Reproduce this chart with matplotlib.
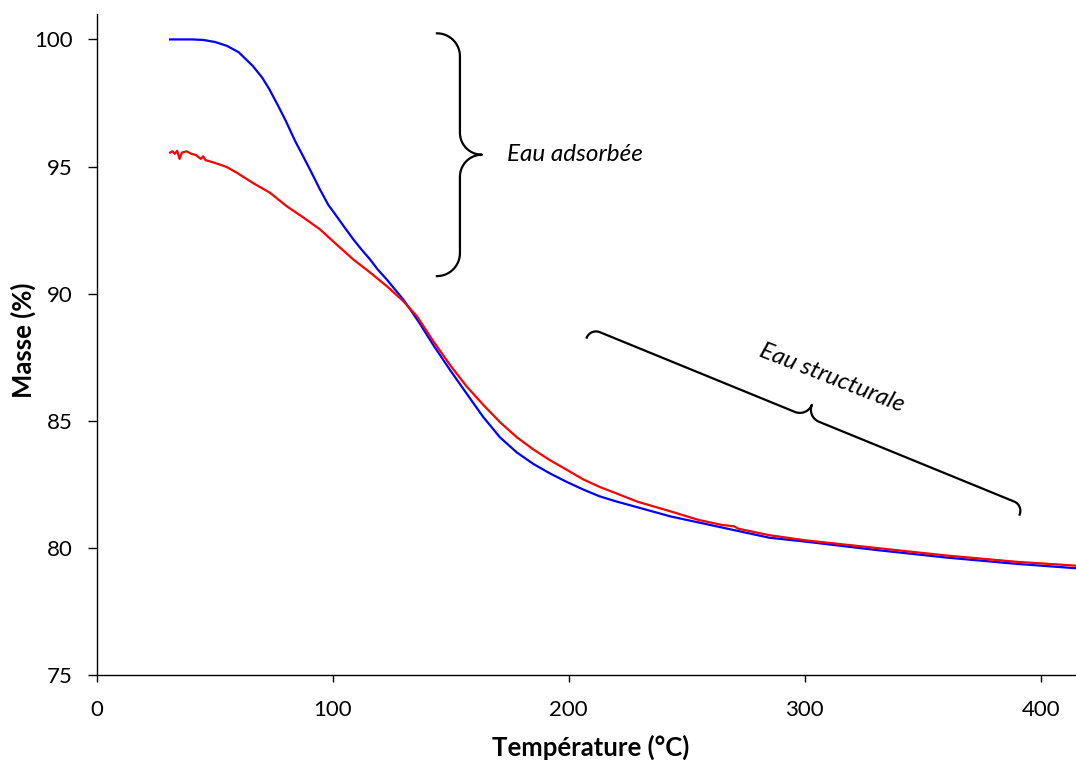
import numpy as np
import matplotlib
matplotlib.use("Agg")
import matplotlib.pyplot as plt

plt.rcParams['font.family'] = ['Lato', 'DejaVu Sans']

# Thermogravimetric curves
temp_blue = [31, 40, 45, 50, 55, 60, 66, 70, 73, 77, 80, 84, 87.4, 91, 94.5,
             98, 101.6, 105, 108.7, 112, 115.8, 119, 122.9, 126, 129.9, 133,
             137, 142.4, 150, 156.6, 163.7, 170.8, 178, 185, 192, 199, 206,
             213, 220, 229, 243, 260, 285, 300, 330, 360, 390, 415]
mass_blue = [100.0, 100.0, 99.98, 99.9, 99.75, 99.5, 98.96, 98.5, 98.05, 97.35,
             96.8, 96.0, 95.4, 94.75, 94.1, 93.5, 93.04, 92.6, 92.13, 91.75,
             91.34, 90.95, 90.55, 90.2, 89.76, 89.35, 88.8, 88.0, 86.95, 86.08,
             85.15, 84.35, 83.75, 83.3, 82.93, 82.6, 82.3, 82.03, 81.83, 81.6,
             81.24, 80.9, 80.4, 80.25, 79.92, 79.62, 79.37, 79.2]

temp_red = [31, 32, 33, 34, 35, 36, 38, 40, 42, 44, 45, 46, 48, 52, 55, 59.2,
            66, 73.3, 80.4, 87.4, 94.5, 101.6, 108.7, 115.8, 122.9, 129.9,
            135.7, 142.4, 150, 156.6, 164, 171, 178, 185, 192, 199, 206, 213,
            220, 229, 243, 255, 265, 270, 272, 285, 300, 330, 360, 390, 415]
mass_red = [95.55, 95.6, 95.5, 95.62, 95.3, 95.55, 95.6, 95.5, 95.45, 95.3,
            95.4, 95.25, 95.2, 95.08, 94.98, 94.76, 94.36, 93.97, 93.44, 93.0,
            92.53, 91.93, 91.34, 90.83, 90.29, 89.7, 89.1, 88.15, 87.15, 86.36,
            85.6, 84.93, 84.35, 83.87, 83.45, 83.08, 82.7, 82.4, 82.15, 81.82,
            81.44, 81.1, 80.9, 80.85, 80.75, 80.5, 80.3, 80.0, 79.7, 79.45,
            79.3]

x_ticks = [0, 100, 200, 300, 400]
y_ticks = [75, 80, 85, 90, 95, 100]

fig = plt.figure(figsize=(10.76, 7.6), dpi=100)
ax = fig.add_axes([97 / 1076, 85 / 760, 979 / 1076, 661 / 760])

ax.plot(temp_blue, mass_blue, color='#0000ff', lw=1.6)
ax.plot(temp_red, mass_red, color='#ff0000', lw=1.6)

ax.set_xlim(0, 415)
ax.set_ylim(75, 101)
ax.set_xticks(x_ticks)
ax.set_yticks(y_ticks)
ax.spines['top'].set_visible(False)
ax.spines['right'].set_visible(False)
for s in ('left', 'bottom'):
    ax.spines[s].set_linewidth(1.0)
ax.tick_params(axis='x', length=5, width=1, labelsize=16, pad=13)
ax.tick_params(axis='y', length=6.5, width=1, labelsize=16, pad=11)
ax.set_xlabel('Température (°C)', fontsize=18.5, fontweight='bold')
ax.set_ylabel('Masse (%)', fontsize=18.5, fontweight='bold')
ax.xaxis.label.set_va('center')
ax.xaxis.set_label_coords(0.5046, -0.110)
ax.yaxis.label.set_va('center')
ax.yaxis.set_label_coords(-0.0756, 0.507)


def brace(ax, p0, p1, tip, cusp):
    # curly brace whose tips sit at p0 and p1 (data), drawn in pixel space
    a = ax.transData.transform(p0)
    b = ax.transData.transform(p1)
    L = np.hypot(*(b - a))
    u = (b - a) / L
    n = np.array([-u[1], u[0]])
    th = np.linspace(0, np.pi / 2, 20)
    s1 = tip - tip * np.cos(th)
    t1 = tip * np.sin(th)
    s2 = (L / 2 - cusp) + cusp * np.sin(th)
    t2 = tip + cusp - cusp * np.cos(th)
    s = np.concatenate([s1, s2])
    t = np.concatenate([t1, t2])
    s = np.concatenate([s, L - s[::-1]])
    t = np.concatenate([t, t[::-1]])
    pts = a + np.outer(s, u) + np.outer(t, n)
    data = ax.transData.inverted().transform(pts)
    ax.plot(data[:, 0], data[:, 1], color='black', lw=1.6, clip_on=False)


brace(ax, (144.1, 100.24), (144.1, 90.69), 23, 22)
brace(ax, (207.6, 88.27), (391.1, 81.31), 10, 13)

ax.text(173.7, 95.47, 'Eau adsorbée', fontsize=17.5, style='italic',
        ha='left', va='center')
ax.text(311.4, 86.7, 'Eau structurale', fontsize=17.5, style='italic',
        ha='center', va='center', rotation=-21.4, rotation_mode='anchor')

fig.savefig('out.png', dpi=100)
